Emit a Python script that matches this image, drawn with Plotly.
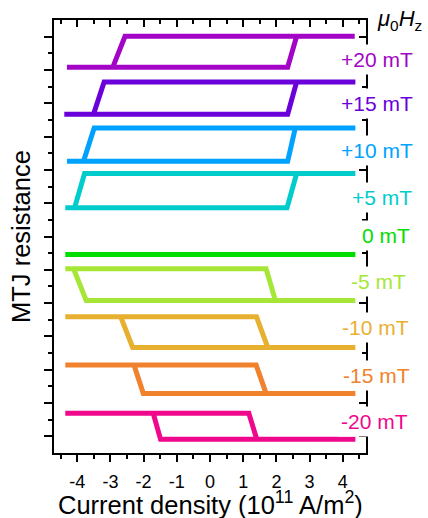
import plotly.graph_objects as go

# ---------------- data ----------------
fields = ["+20 mT", "+15 mT", "+10 mT", "+5 mT", "0 mT", "-5 mT", "-10 mT", "-15 mT", "-20 mT"]
colors = ["#A205C5", "#6A00DA", "#00A2FF", "#00CCCC", "#00DD00",
          "#A6E637", "#E8B030", "#F0822D", "#F0088C"]

# resistance levels (offset, arbitrary units)
r_high = [25.02, 22.28, 19.52, 16.78, 11.92, 11.06, 8.18, 5.28, 2.38]
r_low = [23.16, 20.34, 17.52, 14.72, 11.92, 9.16, 6.34, 3.58, 0.82]

# sweep paths: current density (1e11 A/m^2) and state (1 = high, 0 = low)
j_p20 = [4.36, -2.56, -2.93, -4.31, 2.34, 2.61, 4.36]
j_p15 = [4.38, -3.19, -3.51, -4.39, 2.34, 2.61, 4.38]
j_p10 = [4.38, -3.49, -3.81, -4.31, 2.34, 2.57, 4.38]
j_p5 = [4.38, -3.78, -4.08, -4.36, 2.32, 2.61, 4.38]
j_0 = [-4.36, 4.38]
j_m5 = [4.38, -3.73, -4.11, -4.36, 1.69, 1.97, 4.38]
j_m10 = [4.38, -2.33, -2.69, -4.36, 1.40, 1.74, 4.38]
j_m15 = [4.38, -2.01, -2.29, -4.36, 1.39, 1.69, 4.38]
j_m20 = [4.38, -1.49, -1.71, -4.36, 1.17, 1.41, 4.38]

s_pos = [1, 1, 0, 0, 0, 1, 1]
s_zero = [0, 0]
s_neg = [0, 0, 1, 1, 1, 0, 0]

paths_j = [j_p20, j_p15, j_p10, j_p5, j_0, j_m5, j_m10, j_m15, j_m20]
paths_s = [s_pos, s_pos, s_pos, s_pos, s_zero, s_neg, s_neg, s_neg, s_neg]

x_tick_vals = [-4, -3, -2, -1, 0, 1, 2, 3, 4]
x_tick_text = ["-4", "-3", "-2", "-1", "0", "1", "2", "3", "4"]

# ---------------- figure ----------------
FONT = "Liberation Sans, Arial, sans-serif"
fig = go.Figure()

for name, col, hi, lo, js, ss in zip(fields, colors, r_high, r_low, paths_j, paths_s):
    ys = [lo + s * (hi - lo) for s in ss]
    fig.add_trace(go.Scatter(x=js, y=ys, mode="lines", name=name,
                             line=dict(color=col, width=5),
                             showlegend=False, hoverinfo="skip"))

# invisible trace for the mirrored axes
fig.add_trace(go.Scatter(x=[0], y=[0], xaxis="x2", yaxis="y2", mode="markers",
                         marker=dict(opacity=0), showlegend=False, hoverinfo="skip"))

xr = [-4.7, 4.7]
yr = [0, 26]
x_minor = [-4.5, -3.5, -2.5, -1.5, -0.5, 0.5, 1.5, 2.5, 3.5, 4.5]
y_major = list(range(1, 26, 2))
y_minor = list(range(2, 26, 2))

axis_common = dict(showgrid=False, zeroline=False, showline=True,
                   linecolor="black", linewidth=2, tickcolor="black", tickwidth=2)

fig.update_layout(
    width=428, height=518,
    margin=dict(l=54, r=62, t=20, b=65),
    paper_bgcolor="white", plot_bgcolor="white",
    font=dict(family=FONT, color="black"),
    xaxis=dict(range=xr, tickmode="array", tickvals=x_tick_vals, ticktext=x_tick_text,
               ticks="outside", ticklen=7, tickfont=dict(size=18, family=FONT),
               ticklabelstandoff=4,
               minor=dict(tickmode="array", tickvals=x_minor, ticks="outside",
                          ticklen=4, tickwidth=2, tickcolor="black"),
               **axis_common),
    xaxis2=dict(range=xr, overlaying="x", side="top", tickmode="array",
                tickvals=x_tick_vals, ticks="inside", ticklen=7, showticklabels=False,
                minor=dict(tickmode="array", tickvals=x_minor, ticks="inside",
                           ticklen=4, tickwidth=2, tickcolor="black"),
                **axis_common),
    yaxis=dict(range=yr, tickmode="array", tickvals=y_major, ticks="outside", ticklen=8,
               showticklabels=False,
               minor=dict(tickmode="array", tickvals=y_minor, ticks="outside",
                          ticklen=4, tickwidth=2, tickcolor="black"),
               **axis_common),
    yaxis2=dict(range=yr, overlaying="y", side="right", tickmode="array",
                tickvals=y_major, ticks="inside", ticklen=7, showticklabels=False,
                minor=dict(tickmode="array", tickvals=y_minor, ticks="inside",
                           ticklen=4, tickwidth=2, tickcolor="black"),
                **axis_common),
)

# field labels on the right (white box hides right axis line)
label_y = [23.62, 20.98, 18.18, 15.32, 13.08, 10.28, 7.54, 4.68, 1.88]
label_x = [1.035, 1.035, 1.035, 1.052, 1.063, 1.039, 1.029, 1.033, 1.026]
for name, col, ly, lx in zip(fields, colors, label_y, label_x):
    fig.add_annotation(text=name, xref="paper", yref="y", x=lx, y=ly,
                       xanchor="center", yanchor="middle", showarrow=False,
                       font=dict(size=21, color=col, family=FONT),
                       bgcolor="white", borderpad=3)

fig.add_annotation(text="<i>μ</i><sub>0</sub><i>H</i><sub>z</sub>", xref="paper", yref="paper",
                   x=1.106, y=1.0, xanchor="center", yanchor="middle", showarrow=False,
                   font=dict(size=22, family=FONT, color="black"))

fig.add_annotation(text="Current density (10<sup>11</sup> A/m<sup>2</sup>)",
                   xref="x", yref="paper", x=0, y=-0.1155,
                   xanchor="center", yanchor="middle", showarrow=False,
                   font=dict(size=25.5, family=FONT, color="black"))

fig.add_annotation(text="MTJ resistance", xref="paper", yref="paper",
                   x=-0.1035, y=0.5005, textangle=-90,
                   xanchor="center", yanchor="middle", showarrow=False,
                   font=dict(size=25.5, family=FONT, color="black"))

fig.write_html("out.html", config={"displayModeBar": False},
               post_script="document.body.style.margin='0px';")
